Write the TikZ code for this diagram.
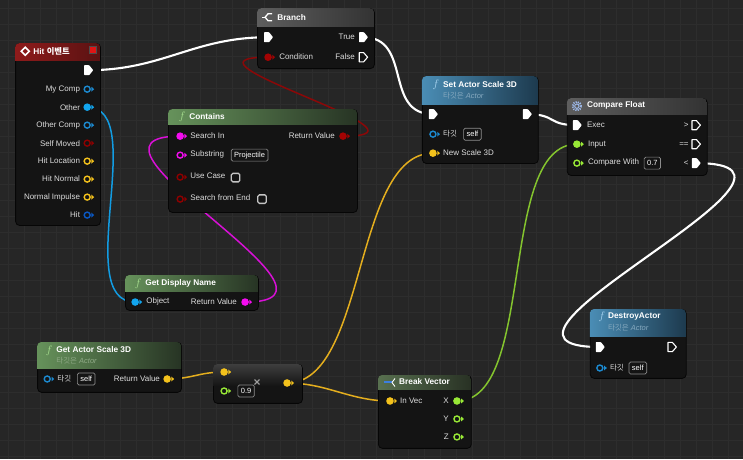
\documentclass[tikz,border=0pt]{standalone}
\usepackage{fontspec}
\setmainfont{Liberation Sans}
\newfontfamily\kr{Noto Sans CJK KR}
\pgfdeclarelayer{bg}
\pgfdeclarelayer{wires}
\pgfsetlayers{bg,wires,main}
\definecolor{bgc}{HTML}{262626}
\definecolor{gridc}{HTML}{2D2D2D}
\definecolor{bodyc}{HTML}{141414}
\definecolor{edgec}{HTML}{060606}
\definecolor{lblc}{HTML}{DCDCDC}
\definecolor{pobj}{HTML}{12A5EE}
\definecolor{pobjd}{HTML}{1C8AD0}
\definecolor{pbool}{HTML}{8E0000}
\definecolor{pboolf}{HTML}{A30303}
\definecolor{pvec}{HTML}{F4C21C}
\definecolor{pstruct}{HTML}{0A58C4}
\definecolor{pstr}{HTML}{F40CF0}
\definecolor{pflt}{HTML}{98E836}
\definecolor{wvec}{HTML}{E4AE1E}
\definecolor{wflt}{HTML}{84C42E}
\definecolor{wobj}{HTML}{129CE2}
\definecolor{wstr}{HTML}{D810D6}
\definecolor{wbool}{HTML}{8A0808}
\definecolor{redL}{HTML}{8E1B1B}
\definecolor{redR}{HTML}{5A1212}
\definecolor{grnL}{HTML}{66925B}
\definecolor{grnR}{HTML}{273424}
\definecolor{bluL}{HTML}{4A8DB5}
\definecolor{bluR}{HTML}{1D3A4E}
\definecolor{gryL}{HTML}{5E5E5E}
\definecolor{gryR}{HTML}{333333}
\definecolor{bvL}{HTML}{58704F}
\definecolor{bvR}{HTML}{283124}
\definecolor{subB}{HTML}{86A9BF}
\definecolor{subG}{HTML}{8FA986}
\definecolor{fB}{HTML}{A8D4F0}
\definecolor{fG}{HTML}{A8E090}
\definecolor{boxc}{HTML}{8C8C8C}
\definecolor{chkc}{HTML}{C4C4C4}
\definecolor{sqred}{HTML}{E01515}
\definecolor{gearc}{HTML}{9DB8E8}
\definecolor{bvic}{HTML}{3C7FE0}
\definecolor{multc}{HTML}{3E3E3E}
\definecolor{timesc}{HTML}{A0A0A0}
\newcommand\fsz[1]{\fontsize{#1}{#1}\selectfont}
\newcommand\bpnode[8]{%
  \node[bpbody, minimum width={(#4-#2)*1pt}, minimum height={(#5-#3)*1pt}] (#1) at (#2,#3) {};
  \begin{scope}
    \clip[rounded corners=4pt] (#2,#3) rectangle (#4,#5);
    \shade[left color=#7, right color=#8] (#2,#3) rectangle (#4,#6);
  \end{scope}}
\tikzset{
  bpbody/.style={draw=edgec, fill=bodyc, rounded corners=4pt, anchor=north west, inner sep=0pt, line width=0.8pt},
  lbl/.style={font=\fsz{8}, text=lblc, inner sep=0pt},
  ttl/.style={font=\bfseries\fsz{8.3}, text=white, inner sep=0pt, anchor=west},
  subt/.style={font=\fsz{7.5}, inner sep=0pt, anchor=west},
  ficon/.style={font=\fsz{11}, inner sep=0pt},
  tbox/.style={draw=boxc, rounded corners=1.5pt, line width=0.7pt, inner xsep=3pt, inner ysep=0pt, minimum height=12pt, font=\fsz{7.5}, text=white},
  cbox/.style={draw=chkc, fill=bodyc, rounded corners=1.5pt, line width=1.3pt, minimum size=8.5pt, inner sep=0pt},
  wire/.style={line width=1.5pt},
  xwire/.style={line width=2.1pt, white},
  pics/dfill/.style={code={\fill[#1] (0,0) circle (3.8); \fill[#1] (4.3,-2.4) -- (7,0) -- (4.3,2.4) -- cycle;}},
  pics/dhollow/.style={code={\draw[#1, line width=1.4pt, fill=bodyc] (0,0) circle (3); \fill[#1] (4.3,-2.4) -- (7,0) -- (4.3,2.4) -- cycle;}},
  pics/efill/.style={code={\fill[white, rounded corners=0.6pt] (-4,-5) -- (1,-5) -- (5,0) -- (1,5) -- (-4,5) -- cycle;}},
  pics/ehollow/.style={code={\draw[white, line width=1.1pt, line join=round] (-3.8,-4.6) -- (0.6,-4.6) -- (4.6,0) -- (0.6,4.6) -- (-3.8,4.6) -- cycle;}}
}
\begin{document}
\begin{tikzpicture}[x=1pt,y=-1pt]
\begin{pgfonlayer}{bg}
  \fill[bgc] (0,0) rectangle (743,459);
  \foreach \i in {8,24,...,743} \draw[gridc, line width=0.5pt] (\i,0) -- (\i,459);
  \foreach \j in {8,24,...,459} \draw[gridc, line width=0.5pt] (0,\j) -- (743,\j);
\end{pgfonlayer}
\useasboundingbox (0,0) rectangle (743,459);

% ---------------- Hit event
\bpnode{hit}{15}{43}{100}{225}{60}{redL}{redR}
\draw[white, line width=1.5pt] (25,47) -- (29,51) -- (25,55) -- (21,51) -- cycle;
\node[ttl] (thit) at (33,51) {Hit {\kr 이벤트}};
\node[draw=black!70, fill=sqred, line width=0.8pt, minimum size=7pt, inner sep=0pt] (hsq) at (93,50) {};
\coordinate (hexec) at (88,70);
\coordinate (hmy) at (87,89);
\coordinate (hother) at (87,107);
\coordinate (hoc) at (87,125);
\coordinate (hsm) at (87,143);
\coordinate (hhl) at (87,161);
\coordinate (hhn) at (87,179);
\coordinate (hni) at (87,197);
\coordinate (hhit) at (87,215);
\node[lbl, anchor=east] (lmy) at (80,89) {My Comp};
\node[lbl, anchor=east] (lother) at (80,107) {Other};
\node[lbl, anchor=east] (loc) at (80,125) {Other Comp};
\node[lbl, anchor=east] (lsm) at (80,143) {Self Moved};
\node[lbl, anchor=east] (lhl) at (80,161) {Hit Location};
\node[lbl, anchor=east] (lhn) at (80,179) {Hit Normal};
\node[lbl, anchor=east] (lni) at (80,197) {Normal Impulse};
\node[lbl, anchor=east] (lhit) at (80,215) {Hit};
\pic at (hexec) {efill};
\pic at (hmy) {dhollow=pobjd};
\pic at (hother) {dfill=pobj};
\pic at (hoc) {dhollow=pobjd};
\pic at (hsm) {dhollow=pbool};
\pic at (hhl) {dhollow=pvec};
\pic at (hhn) {dhollow=pvec};
\pic at (hni) {dhollow=pvec};
\pic at (hhit) {dhollow=pstruct};

% ---------------- Branch
\bpnode{branch}{257}{8}{374}{68}{26}{gryL}{gryR}
\draw[white, line width=1.3pt] (272,13.5) -- (268,13.5) -- (265,17) -- (268,20.5) -- (272,20.5);
\draw[white, line width=1.3pt] (265,17) -- (262,17);
\node[ttl] (tbranch) at (277,17.5) {Branch};
\coordinate (bexec) at (268,37);
\coordinate (bcond) at (268,57);
\coordinate (btrue) at (363,37);
\coordinate (bfalse) at (363,57);
\node[lbl, anchor=west] (lcond) at (279,56) {Condition};
\node[lbl, anchor=east] (ltrue) at (355,36.5) {True};
\node[lbl, anchor=east] (lfalse) at (355,56.5) {False};
\pic at (bexec) {efill};
\pic at (bcond) {dfill=pboolf};
\pic at (btrue) {efill};
\pic at (bfalse) {ehollow};

% ---------------- Contains
\bpnode{contains}{168}{109}{357}{212}{124}{grnL}{grnR}
\node[ficon, text=fG] (fcont) at (182,117) {$f$};
\node[ttl] (tcont) at (189,116.5) {Contains};
\coordinate (csin) at (180,136);
\coordinate (csub) at (180,155);
\coordinate (cuc) at (180,177);
\coordinate (csfe) at (180,199);
\coordinate (cret) at (343,136);
\node[lbl, anchor=west] (lsin) at (190,135.5) {Search In};
\node[lbl, anchor=west] (lsub) at (190,154) {Substring};
\node[tbox] (bproj) at (249.5,155) {Projectile};
\node[lbl, anchor=west] (luc) at (190,175.5) {Use Case};
\node[cbox] (kuc) at (235.5,177.5) {};
\node[lbl, anchor=west] (lsfe) at (190,197.5) {Search from End};
\node[cbox] (ksfe) at (262,199) {};
\node[lbl, anchor=east] (lcret) at (335,135.5) {Return Value};
\pic at (csin) {dfill=pstr};
\pic at (csub) {dhollow=pstr};
\pic at (cuc) {dhollow=pbool};
\pic at (csfe) {dhollow=pbool};
\pic at (cret) {dfill=pboolf};

% ---------------- Get Display Name
\bpnode{gdn}{125}{275}{258}{310}{291}{grnL}{grnR}
\node[ficon, text=fG] (fgdn) at (138,284) {$f$};
\node[ttl] (tgdn) at (145,283) {Get Display Name};
\coordinate (gobj) at (135,302);
\coordinate (gret) at (245,302);
\node[lbl, anchor=west] (lgobj) at (146,301.5) {Object};
\node[lbl, anchor=east] (lgret) at (237,301.5) {Return Value};
\pic at (gobj) {dfill=pobj};
\pic at (gret) {dfill=pstr};

% ---------------- Set Actor Scale 3D
\bpnode{setscale}{422}{76}{538}{163}{104}{bluL}{bluR}
\node[ficon, text=fB] (fset) at (436,85) {$f$};
\node[ttl] (tset) at (443,84) {Set Actor Scale 3D};
\node[subt, text=subB] (sset) at (443,96) {{\kr 타깃은} \textit{Actor}};
\coordinate (sexec) at (433,114);
\coordinate (sout) at (527,114);
\coordinate (starg) at (433,134);
\coordinate (snew) at (433,153);
\node[lbl, anchor=west] (lstarg) at (443,133.5) {\kr\fsz{7.5}타깃};
\node[tbox] (bsself) at (472.5,134) {self};
\node[lbl, anchor=west] (lsnew) at (443,152.5) {New Scale 3D};
\pic at (sexec) {efill};
\pic at (sout) {efill};
\pic at (starg) {dhollow=pobjd};
\pic at (snew) {dfill=pvec};

% ---------------- Compare Float
\bpnode{cmpf}{567}{98}{707}{175}{114}{gryL}{gryR}
\draw[gearc, line width=1.8pt, dash pattern=on 1.2pt off 1.1pt] (577,106) circle (4.3);
\draw[gearc, line width=1pt] (577,106) circle (2.2);
\node[ttl] (tcmp) at (587,105.5) {Compare Float};
\coordinate (fexec) at (577,125);
\coordinate (finp) at (577,144);
\coordinate (fcw) at (577,163);
\coordinate (fgt) at (696,125);
\coordinate (feq) at (696,144);
\coordinate (flt) at (696,163);
\node[lbl, anchor=west] (lfexec) at (587,125) {Exec};
\node[lbl, anchor=west] (lfinp) at (588,144) {Input};
\node[lbl, anchor=west] (lfcw) at (588,162) {Compare With};
\node[tbox] (bcmp) at (652.5,163) {0.7};
\node[lbl, anchor=east] (lgt) at (689,125) {>};
\node[lbl, anchor=east] (leq) at (689,144) {==};
\node[lbl, anchor=east] (llt) at (689,163) {<};
\pic at (fexec) {efill};
\pic at (finp) {dfill=pflt};
\pic at (fcw) {dhollow=pflt};
\pic at (fgt) {ehollow};
\pic at (feq) {ehollow};
\pic at (flt) {efill};

% ---------------- DestroyActor
\bpnode{destroy}{590}{309}{686}{378}{336}{bluL}{bluR}
\node[ficon, text=fB] (fdes) at (602,317) {$f$};
\node[ttl] (tdes) at (608,316) {DestroyActor};
\node[subt, text=subB] (sdes) at (608,328) {{\kr 타깃은} \textit{Actor}};
\coordinate (dexec) at (600,347);
\coordinate (dout) at (672,347);
\coordinate (dtarg) at (600,368);
\node[lbl, anchor=west] (ldtarg) at (610,367.5) {\kr\fsz{7.5}타깃};
\node[tbox] (bdself) at (638,368) {self};
\pic at (dexec) {efill};
\pic at (dout) {ehollow};
\pic at (dtarg) {dhollow=pobjd};

% ---------------- Get Actor Scale 3D
\bpnode{getscale}{37}{342}{181}{392}{368}{grnL}{grnR}
\node[ficon, text=fG] (fget) at (49,351) {$f$};
\node[ttl] (tget) at (56,350) {Get Actor Scale 3D};
\node[subt, text=subG] (sget) at (56,361) {{\kr 타깃은} \textit{Actor}};
\coordinate (gtarg) at (47,379);
\coordinate (gasret) at (167,379);
\node[lbl, anchor=west] (lgtarg) at (57,378.5) {\kr\fsz{7.5}타깃};
\node[tbox] (bgself) at (86,379) {self};
\node[lbl, anchor=east] (lgasret) at (160,378.5) {Return Value};
\pic at (gtarg) {dhollow=pobjd};
\pic at (gasret) {dfill=pvec};

% ---------------- Multiply
\node[bpbody, minimum width=89pt, minimum height=39pt] (mult) at (213,364) {};
\begin{scope}
  \clip[rounded corners=4pt] (213,364) rectangle (302,403);
  \shade[top color=multc, bottom color=bodyc] (213,364) rectangle (302,386);
\end{scope}
\node[font=\bfseries\fsz{12}, text=timesc, inner sep=0pt] (xm) at (257,383) {×};
\coordinate (ma) at (224,372);
\coordinate (mb) at (224,391);
\coordinate (mout) at (287,383);
\node[tbox] (bmult) at (246,391) {0.9};
\pic at (ma) {dfill=pvec};
\pic at (mb) {dhollow=pflt};
\pic at (mout) {dfill=pvec};

% ---------------- Break Vector
\bpnode{breakv}{378}{375}{471}{448}{390}{bvL}{bvR}
\draw[bvic, line width=2pt] (384,382.5) -- (392,382.5);
\draw[white, line width=0.9pt] (392,382.5) -- (395,378.5) (392,382.5) -- (395,386.5);
\node[ttl] (tbv) at (399,382) {Break Vector};
\coordinate (bvin) at (390,401);
\coordinate (bvx) at (457,401);
\coordinate (bvy) at (457,419);
\coordinate (bvz) at (457,437);
\node[lbl, anchor=west] (lbvin) at (400,400.5) {In Vec};
\node[lbl, anchor=east] (lbvx) at (449,400.5) {X};
\node[lbl, anchor=east] (lbvy) at (449,418.5) {Y};
\node[lbl, anchor=east] (lbvz) at (449,436.5) {Z};
\pic at (bvin) {dfill=pvec};
\pic at (bvx) {dfill=pflt};
\pic at (bvy) {dhollow=pflt};
\pic at (bvz) {dhollow=pflt};

% ---------------- Wires
\begin{pgfonlayer}{wires}
  \draw[xwire] (hexec) .. controls +(75,0) and +(-75,0) .. (bexec);
  \draw[xwire] (btrue) .. controls +(50,0) and +(-50,0) .. (sexec);
  \draw[xwire] (sout) .. controls +(30,0) and +(-30,0) .. (fexec);
  \draw[xwire] (flt) .. controls +(164,0) and +(-160,0) .. (dexec);
  \draw[wire, wobj] (hother) .. controls +(63,0) and +(-65,0) .. (gobj);
  \draw[wire, wstr] (gret) .. controls +(130,0) and +(-130,0) .. (csin);
  \draw[wire, wbool] (cret) .. controls +(110,0) and +(-110,0) .. (bcond);
  \draw[wire, wvec] (gasret) .. controls +(25,0) and +(-25,0) .. (ma);
  \draw[wire, wvec] (mout) .. controls +(80,0) and +(-80,0) .. (snew);
  \draw[wire, wvec] (mout) .. controls +(40,0) and +(-40,0) .. (bvin);
  \draw[wire, wflt] (bvx) .. controls +(80,0) and +(-80,0) .. (finp);
\end{pgfonlayer}
\end{tikzpicture}
\end{document}
